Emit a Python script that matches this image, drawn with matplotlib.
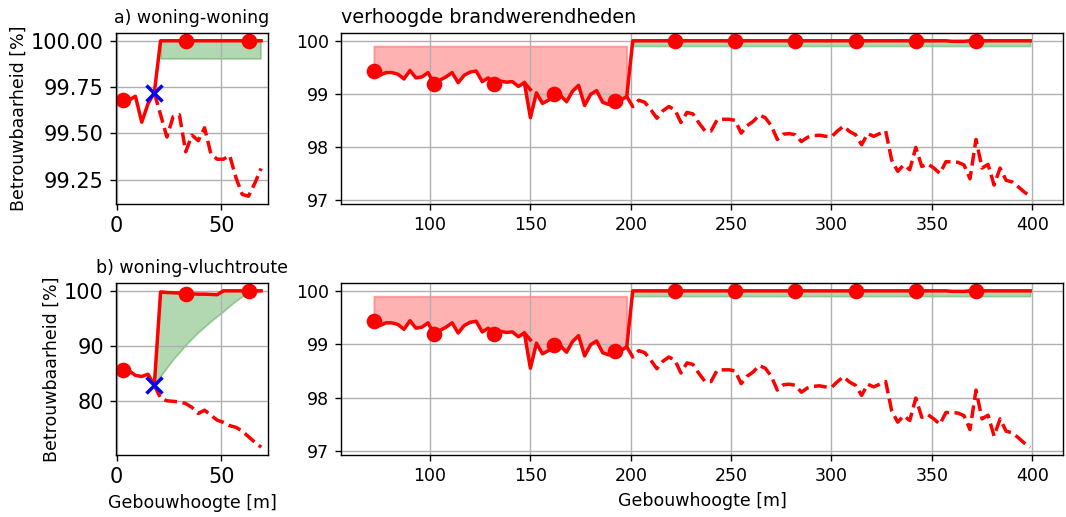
import matplotlib
matplotlib.use("Agg")
import matplotlib.pyplot as plt
import numpy as np

# --- a) woning-woning (left, top) ---
h_left = np.arange(3, 70, 3)            # 3 .. 69 m
ww_solid = [99.68, 99.68, 99.70, 99.56, 99.66, 99.72,
            100.0, 100.0, 100.0, 100.0, 100.0, 100.0, 100.0, 100.0, 100.0,
            100.0, 100.0, 100.0, 100.0, 100.0, 100.0, 100.0, 100.0]
h_left_dash = h_left[5:]                # 18 .. 69 m
ww_dashed = [99.72, 99.60, 99.48, 99.59, 99.60, 99.40, 99.49, 99.46, 99.53,
             99.39, 99.36, 99.36, 99.38, 99.26, 99.17, 99.16, 99.23, 99.31]
ww_eis = 99.9

# --- b) woning-vluchtroute (left, bottom) ---
wv_solid = [85.7, 85.5, 84.7, 84.5, 84.9, 82.9,
            99.8, 99.7, 99.65, 99.6, 99.5, 99.45, 99.4, 99.4, 99.35, 99.3,
            100.0, 100.0, 100.0, 100.0, 100.0, 100.0, 100.0]
wv_dashed = [82.9, 80.6, 80.1, 80.0, 79.9, 79.6, 78.9, 77.8, 78.4,
             77.5, 76.6, 76.2, 75.6, 75.3, 74.6, 73.6, 72.6, 71.7]
wv_eis = [82.9, 84.6, 86.1, 87.6, 88.9, 90.2, 91.4, 92.5, 93.5,
          94.5, 95.4, 96.3, 97.3, 98.2, 99.0, 99.7, 100.0, 100.0]

# --- verhoogde brandwerendheden (right) ---
h_right = np.arange(72, 400, 3)         # 72 .. 399 m
vb_low = [99.43, 99.35, 99.40, 99.40, 99.37, 99.28, 99.44, 99.30, 99.32, 99.40,
          99.19, 99.26, 99.32, 99.40, 99.21, 99.35, 99.41, 99.43, 99.23, 99.30,
          99.19, 99.24, 99.22, 99.23, 99.14, 99.21, 98.55, 99.02, 98.82, 98.88,
          98.99, 98.97, 98.85, 99.05, 99.16, 98.78, 98.99, 99.06, 98.84, 98.80,
          98.87, 98.88, 98.95]
vb_high = [100.0, 100.0, 100.0, 100.0, 100.0, 100.0, 100.0, 100.0, 100.0, 100.0,
           100.0, 100.0, 100.0, 100.0, 100.0, 100.0, 100.0, 100.0, 100.0, 100.0,
           100.0, 100.0, 100.0, 100.0, 100.0, 100.0, 100.0, 100.0, 100.0, 100.0,
           100.0, 100.0, 100.0, 100.0, 100.0, 100.0, 100.0, 100.0, 100.0, 100.0,
           100.0, 100.0, 100.0, 100.0, 100.0, 100.0, 100.0, 100.0, 100.0, 100.0,
           100.0, 100.0, 100.0, 99.99, 99.99, 99.99, 100.0, 100.0, 100.0, 100.0,
           100.0, 100.0, 100.0, 100.0, 100.0, 100.0, 100.0]
vb_solid = vb_low + vb_high
vb_stub_h = [147, 150]
vb_stub = [99.21, 99.08]
h_right_dash = h_right[42:]             # 198 .. 399 m
vb_dashed = [98.95, 98.76, 98.88, 98.84, 98.70, 98.54, 98.68, 98.76, 98.70, 98.46,
             98.65, 98.62, 98.45, 98.30, 98.30, 98.51, 98.52, 98.52, 98.50, 98.26,
             98.40, 98.48, 98.60, 98.55, 98.40, 98.14, 98.24, 98.25, 98.23, 98.10,
             98.18, 98.21, 98.22, 98.20, 98.19, 98.30, 98.39, 98.29, 98.23, 98.04,
             98.25, 98.20, 98.25, 98.30, 97.75, 97.54, 97.66, 97.57, 97.99, 97.63,
             97.68, 97.60, 97.50, 97.72, 97.72, 97.71, 97.66, 97.40, 98.14, 97.60,
             97.67, 97.28, 97.60, 97.37, 97.34, 97.25, 97.15, 97.07]
vb_eis = 99.9

LW = 2
MS = 8


def draw_left(ax, solid, dashed, lower, fill_from):
    solid = np.array(solid)
    lower = np.broadcast_to(np.array(lower, dtype=float), h_left_dash.shape)
    ax.plot(h_left, solid, color='red', lw=LW, marker='o', ms=MS, markevery=10)
    ax.plot(h_left_dash, dashed, color='red', lw=LW, ls='--')
    sel = h_left_dash >= fill_from
    ax.fill_between(h_left_dash[sel], lower[sel], solid[5:][sel],
                    color='green', alpha=0.3)
    ax.plot(h_left[5], solid[5], 'x', color='blue', ms=9, mew=2, zorder=5)
    ax.grid(True)
    ax.set_ylabel('Betrouwbaarheid [%]', labelpad=2)
    ax.set_xticks([0, 50])
    ax.tick_params(labelsize=12)


def draw_right(ax):
    solid = np.array(vb_solid)
    ax.plot(h_right, solid, color='red', lw=LW, marker='o', ms=MS, markevery=10)
    ax.plot(vb_stub_h, vb_stub, color='red', lw=LW)
    ax.plot(h_right_dash, vb_dashed, color='red', lw=LW, ls='--')
    low = h_right <= 198
    ax.fill_between(h_right[low], solid[low], vb_eis, color='red', alpha=0.3)
    high = h_right >= 201
    ax.fill_between(h_right[high], vb_eis, solid[high], color='green', alpha=0.3)
    ax.set_xticks([100, 150, 200, 250, 300, 350, 400])
    ax.set_yticks([97, 98, 99, 100])
    ax.grid(True)


fig = plt.figure(figsize=(1066 / 125, 517 / 125), dpi=125)

ax1 = fig.add_axes([0.1088, 0.6054, 0.1426, 0.3308])
ax2 = fig.add_axes([0.3199, 0.6054, 0.6773, 0.3308])
ax3 = fig.add_axes([0.1088, 0.1199, 0.1426, 0.3327])
ax4 = fig.add_axes([0.3199, 0.1199, 0.6773, 0.3327])

draw_left(ax1, ww_solid, ww_dashed, ww_eis, 21)
ax1.set_title('a) woning-woning', fontsize=10)
ax1.set_yticks([99.25, 99.5, 99.75, 100.0])

draw_right(ax2)
ax2.set_title('verhoogde brandwerendheden', loc='left', fontsize=11)

draw_left(ax3, wv_solid, wv_dashed, wv_eis, 18)
ax3.set_title('b) woning-vluchtroute', fontsize=10)
ax3.set_yticks([80, 90, 100])
ax3.set_xlabel('Gebouwhoogte [m]')

draw_right(ax4)
ax4.set_xlabel('Gebouwhoogte [m]')

fig.savefig('out.png', dpi=125)
